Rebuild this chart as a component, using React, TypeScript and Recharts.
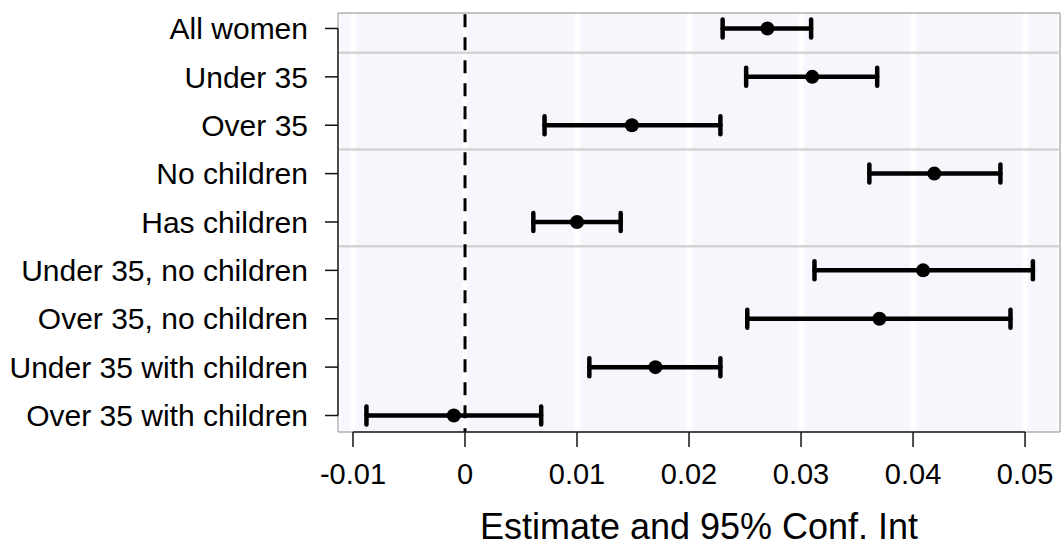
import React from 'react';
import {
  ComposedChart,
  Scatter,
  ErrorBar,
  XAxis,
  YAxis,
  CartesianGrid,
  ReferenceLine,
  ReferenceArea,
} from 'recharts';

const categories = [
  'All women',
  'Under 35',
  'Over 35',
  'No children',
  'Has children',
  'Under 35, no children',
  'Over 35, no children',
  'Under 35 with children',
  'Over 35 with children',
];
const estimates = [0.027, 0.031, 0.0149, 0.0419, 0.01, 0.0409, 0.037, 0.017, -0.001];
const lowerCI = [0.023, 0.0251, 0.0071, 0.0361, 0.0061, 0.0312, 0.0252, 0.0111, -0.0088];
const upperCI = [0.0309, 0.0368, 0.0228, 0.0478, 0.0139, 0.0507, 0.0487, 0.0228, 0.0068];
const xTicks = [-0.01, 0, 0.01, 0.02, 0.03, 0.04, 0.05];
const rowTicks = [0, 1, 2, 3, 4, 5, 6, 7, 8];
const groupSeparators = [0.5, 2.5, 4.5];

const X_MIN = -0.01134;
const X_MAX = 0.05312;
const Y_MIN = -0.32;
const Y_MAX = 8.341;

const rows = categories.map((c, i) => ({
  idx: i,
  label: c,
  est: estimates[i],
  err: [estimates[i] - lowerCI[i], upperCI[i] - estimates[i]],
}));

const FONT = '"Liberation Sans", Arial, sans-serif';

const Dot = (p: any) => <circle cx={p.cx} cy={p.cy} r={7} fill="#000" />;

export default function App() {
  return (
    <div style={{ position: 'absolute', left: 0, top: 0, background: '#fff' }}>
      <ComposedChart
        width={1061}
        height={548}
        data={rows}
        margin={{ top: 13, right: 1, bottom: 0, left: 0 }}
        style={{ fontFamily: FONT }}
      >
        <CartesianGrid
          horizontal={false}
          vertical={true}
          stroke="#ffffff"
          strokeWidth={5}
          fill="#f6f7fd"
          fillOpacity={1}
        />
        <XAxis
          type="number"
          dataKey="est"
          domain={[X_MIN, X_MAX]}
          allowDataOverflow
          ticks={xTicks}
          interval={0}
          height={116}
          axisLine={false}
          tickSize={15}
          tickMargin={16}
          tickLine={{ stroke: '#111', strokeWidth: 1.5 }}
          tick={{ fontSize: 29, fill: '#000', fontFamily: FONT }}
          label={{
            value: 'Estimate and 95% Conf. Int',
            position: 'insideBottom',
            offset: 9,
            fontSize: 36,
            fill: '#000',
            fontFamily: FONT,
          }}
        />
        <YAxis
          type="number"
          dataKey="idx"
          domain={[Y_MIN, Y_MAX]}
          allowDataOverflow
          reversed
          ticks={rowTicks}
          interval={0}
          width={338}
          axisLine={false}
          tickSize={13}
          tickMargin={17}
          tickLine={{ stroke: '#111', strokeWidth: 1.5 }}
          tickFormatter={(v: number) => categories[v]}
          tick={{ fontSize: 30, fill: '#000', fontFamily: FONT }}
        />
        <ReferenceArea
          x1={X_MIN}
          x2={X_MAX}
          y1={Y_MIN}
          y2={Y_MAX}
          fill="none"
          stroke="#8c8c8c"
          strokeWidth={1}
          ifOverflow="visible"
        />
        {groupSeparators.map((y) => (
          <ReferenceLine key={y} y={y} stroke="#d4d4d4" strokeWidth={2.5} ifOverflow="visible" />
        ))}
        <ReferenceLine
          x={0}
          stroke="#000"
          strokeWidth={3}
          strokeDasharray="13 10"
          strokeDashoffset={9.3}
          ifOverflow="visible"
        />
        <ReferenceLine
          segment={[{ x: -0.01, y: Y_MAX }, { x: 0.05, y: Y_MAX }]}
          stroke="#222"
          strokeWidth={1.5}
          ifOverflow="visible"
        />
        <ReferenceLine
          segment={[{ x: X_MIN, y: 0 }, { x: X_MIN, y: 8 }]}
          stroke="#222"
          strokeWidth={1.5}
          ifOverflow="visible"
        />
        <Scatter data={rows} dataKey="est" fill="#000" shape={Dot} isAnimationActive={false}>
          <ErrorBar
            dataKey="err"
            direction="x"
            width={9}
            stroke="#000"
            strokeWidth={4.5}
            strokeLinecap="round"
            isAnimationActive={false}
          />
        </Scatter>
      </ComposedChart>
    </div>
  );
}
